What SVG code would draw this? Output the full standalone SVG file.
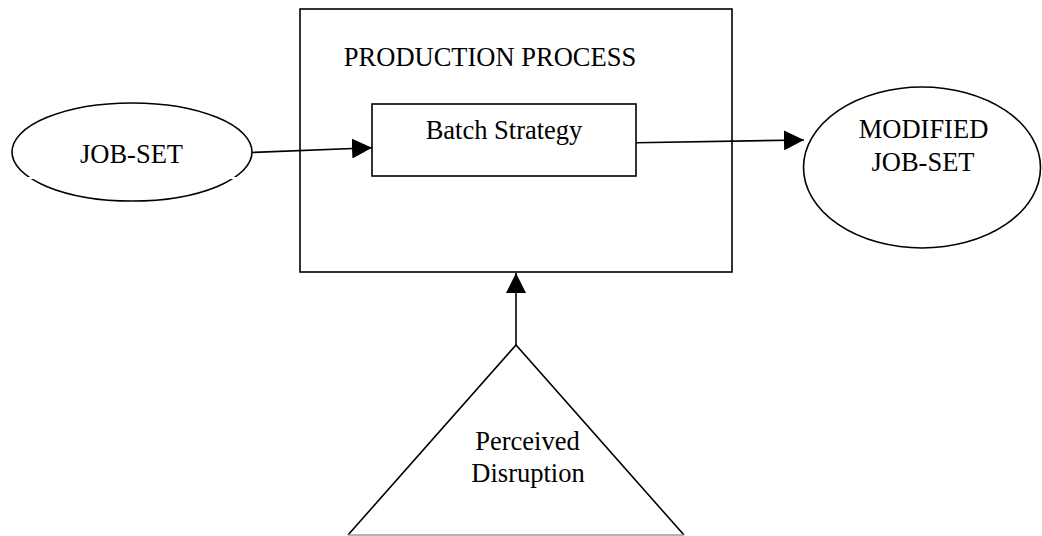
<svg xmlns="http://www.w3.org/2000/svg" width="1042" height="536" viewBox="0 0 1042 536">
  <style>
    .shape { fill: #ffffff; stroke: #000000; stroke-width: 1.6; }
    .label { font-family: "Liberation Serif", "Times New Roman", serif; font-size: 26.5px; fill: #000000; text-anchor: middle; }
    .link { fill: none; stroke: #000000; stroke-width: 1.6; }
  </style>
  <defs>
    <marker id="arrow" viewBox="0 0 20 20" refX="20" refY="10" markerWidth="20" markerHeight="20" markerUnits="userSpaceOnUse" orient="auto">
      <path d="M0,0 L20,10 L0,20 Z" fill="#000000"/>
    </marker>
  </defs>

  <!-- outer process box -->
  <g id="production-process">
    <rect class="shape" x="300" y="9" width="432" height="263"/>
    <text class="label" x="490" y="66">PRODUCTION PROCESS</text>
  </g>

  <!-- inner strategy box -->
  <g id="batch-strategy">
    <rect class="shape" x="372" y="104" width="264" height="72"/>
    <text class="label" x="504" y="139">Batch Strategy</text>
  </g>

  <!-- input set -->
  <g id="job-set">
    <ellipse class="shape" cx="132" cy="152" rx="120" ry="49"/>
    <rect x="28" y="177" width="208" height="2" fill="#ffffff"/>
    <text class="label" x="131.5" y="162.5">JOB-SET</text>
  </g>

  <!-- output set -->
  <g id="modified-job-set">
    <ellipse class="shape" cx="922" cy="167.5" rx="118.5" ry="80.5"/>
    <text class="label" x="923.5" y="138">MODIFIED</text>
    <text class="label" x="923" y="171">JOB-SET</text>
  </g>

  <!-- disruption source -->
  <g id="perceived-disruption">
    <path d="M348,535 L516,345 L684,535" fill="#ffffff" stroke="#000000" stroke-width="1.6"/>
    <line x1="348" y1="535" x2="684" y2="535" stroke="#9a9a9a" stroke-width="1.6"/>
    <text class="label" x="527.5" y="450">Perceived</text>
    <text class="label" x="528" y="481.5">Disruption</text>
  </g>

  <!-- connectors -->
  <g id="connectors">
    <line class="link" x1="252" y1="152.5" x2="372" y2="147.7" marker-end="url(#arrow)"/>
    <line class="link" x1="636" y1="142.7" x2="804" y2="140" marker-end="url(#arrow)"/>
    <line class="link" x1="516" y1="345" x2="516" y2="273" marker-end="url(#arrow)"/>
  </g>
</svg>
